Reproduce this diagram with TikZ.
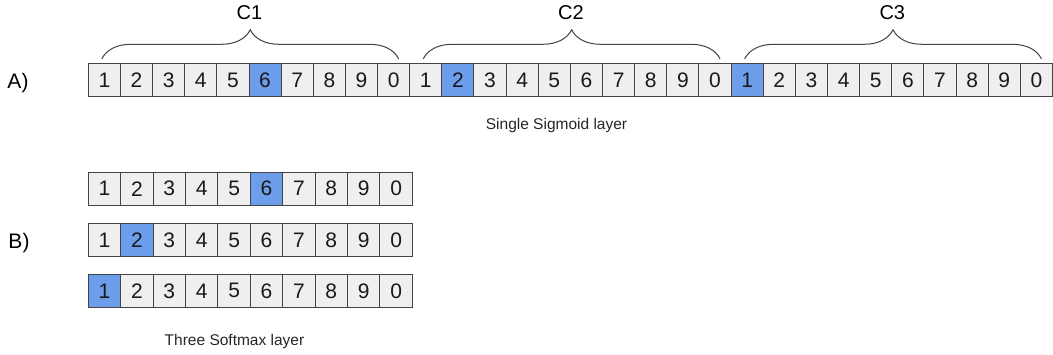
\documentclass[tikz,border=0pt]{standalone}
\usepackage{fontspec}
\setmainfont{Liberation Sans}
\usepackage{xcolor}
\usetikzlibrary{decorations.pathreplacing}

\definecolor{cellgray}{HTML}{EFEFEF}
\definecolor{cellblue}{HTML}{6D9EEB}
\definecolor{edgegray}{HTML}{434343}

\tikzset{
  cell/.style={draw=edgegray, line width=1pt, minimum height=33pt, inner sep=0pt,
    text=black!90, font=\fontsize{21}{21}\selectfont},
  grp/.style={decorate, decoration={brace, amplitude=29pt}, draw=edgegray, line width=1pt},
  tag/.style={font=\fontsize{21}{21}\selectfont},
  caption/.style={anchor=base, text=black!85, font=\fontsize{15.5}{16}\selectfont}
}

\begin{document}
\begin{tikzpicture}[x=1pt,y=-1pt]
        \useasboundingbox (0,0) rectangle (1053,354);

        % Sigmoid : une seule couche de 30 sorties
        \node[tag, anchor=base] (labA) at (18,88) {A)};
        \foreach \i in {1,...,30} {
          \pgfmathtruncatemacro\d{mod(\i,10)}
          \def\fc{cellgray}
          \ifnum\i=6 \def\fc{cellblue}\fi
          \ifnum\i=12 \def\fc{cellblue}\fi
          \ifnum\i=21 \def\fc{cellblue}\fi
          \node[cell, fill=\fc, minimum width=32.14pt] (sig-\i) at ({88.3+(\i-0.5)*32.14},80.3) {\d};
        }

        % Accolades des caracteres
        \foreach \g/\a/\b in {1/1/10, 2/11/20, 3/21/30} {
          \pgfmathtruncatemacro\m{\a+4}
          \draw[grp] ([xshift=-2.5pt,yshift=4.5pt]sig-\a.north) -- ([xshift=5pt,yshift=4.5pt]sig-\b.north);
          \node[anchor=base, tag, font=\fontsize{20}{20}\selectfont] (lab-\g) at ([yshift=44pt]sig-\m.north east) {C\g};
        }
        \node[caption] (capA) at (556.5,129.3) {Single Sigmoid layer};

        % Softmax : trois couches de 10 sorties
        \node[tag, anchor=base] (labB) at (19,248) {B)};
        \foreach \r/\h/\y in {1/6/188.7, 2/2/240, 3/1/290.8} {
          \foreach \i in {1,...,10} {
            \pgfmathtruncatemacro\d{mod(\i,10)}
            \def\fc{cellgray}
            \ifnum\i=\h \def\fc{cellblue}\fi
            \node[cell, fill=\fc, minimum width=32.4pt] (soft\r-\i) at ({88.3+(\i-0.5)*32.4},\y) {\d};
          }
        }
        \node[caption] (capB) at (234.5,345.5) {Three Softmax layer};
\end{tikzpicture}
\end{document}
